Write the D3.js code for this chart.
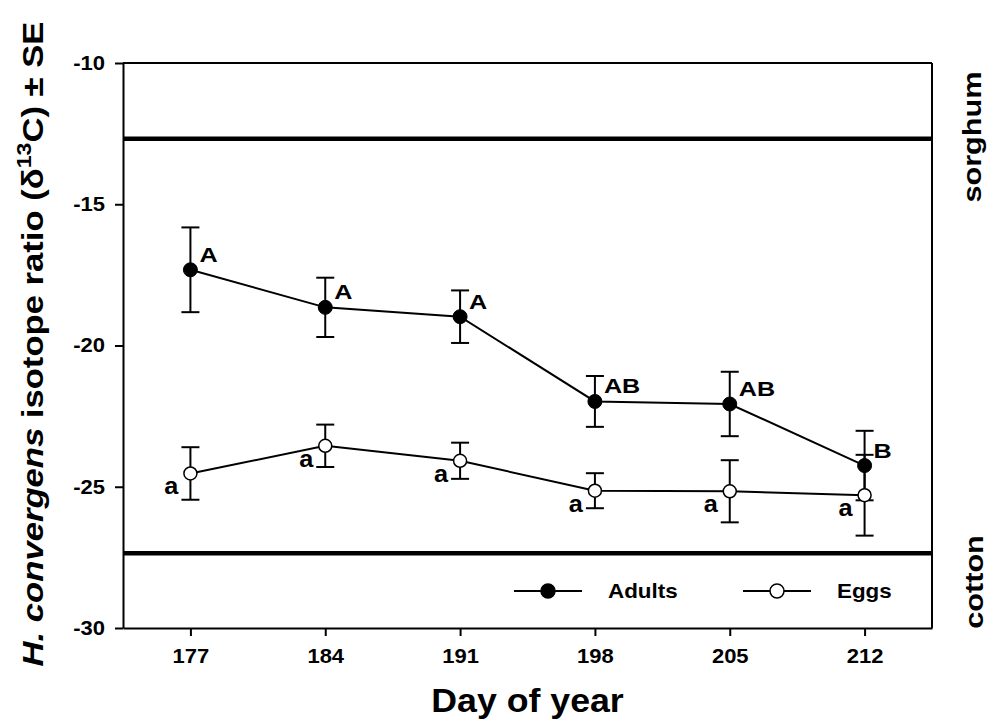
<!DOCTYPE html>
<html>
<head>
<meta charset="utf-8">
<script src="https://cdn.jsdelivr.net/npm/d3@7"></script>
<style>
  body { margin: 0; background: #fff; }
  svg text { font-family: Arial, "Liberation Sans", sans-serif; font-weight: bold; fill: #000; }
</style>
</head>
<body>
<div id="chart"></div>
<script>
// values (delta 13C, per mille)
const days = [177, 184, 191, 198, 205, 212];
const adultMean = [-17.32, -18.65, -18.98, -21.98, -22.07, -24.25];
const adultSE = [1.50, 1.05, 0.93, 0.90, 1.14, 1.23];
const adultLetters = ["A", "A", "A", "AB", "AB", "B"];
const eggMean = [-24.53, -23.55, -24.08, -25.14, -25.16, -25.30];
const eggSE = [0.93, 0.75, 0.64, 0.62, 1.10, 1.43];
const eggLetters = ["a", "a", "a", "a", "a", "a"];
const yTicks = [-10, -15, -20, -25, -30];
const sorghumRef = -12.68;
const cottonRef = -27.35;

const margin = {top: 63, right: 63, bottom: 95, left: 123},
    width = 995 - margin.left - margin.right,
    height = 723 - margin.top - margin.bottom;

const adults = days.map((d, i) => ({day: d, mean: adultMean[i], se: adultSE[i], letter: adultLetters[i]}));
const eggs = days.map((d, i) => ({day: d, mean: eggMean[i], se: eggSE[i], letter: eggLetters[i]}));

const svg = d3.select("#chart").append("svg")
    .attr("width", 995)
    .attr("height", 723);

const g = svg.append("g")
    .attr("transform", "translate(" + margin.left + "," + margin.top + ")");

const x = d3.scaleLinear()
    .domain([173.5, 215.5])
    .range([0, width]);

const y = d3.scaleLinear()
    .domain([-30, -10])
    .range([height, 0]);

// text in the figure runs a bit wider than Arial, so stretch along the baseline
function put(sel, px, py, size, anchor, k, rot) {
    return sel.attr("transform", "translate(" + px + "," + py + ")" + (rot ? " rotate(" + rot + ")" : "") + " scale(" + k + ",1)")
        .style("font-size", size + "px")
        .attr("text-anchor", anchor);
}

// axes
const yAxis = g.append("g")
    .call(d3.axisLeft(y).tickValues(yTicks).tickSize(8).tickSizeOuter(0).tickPadding(10).tickFormat(d => d.toString()));
const xAxis = g.append("g")
    .attr("transform", "translate(0," + height + ")")
    .call(d3.axisBottom(x).tickValues(days).tickSize(8).tickSizeOuter(0).tickPadding(13).tickFormat(d => d.toString()));

[yAxis, xAxis].forEach(a => {
    a.select(".domain").attr("stroke-width", 2);
    a.selectAll(".tick line").attr("stroke-width", 2);
    a.selectAll(".tick text").style("font-size", "20px").attr("font-family", null);
});
yAxis.selectAll(".tick text").each(function () {
    const t = d3.select(this);
    t.attr("transform", "translate(" + (+t.attr("x")) + ",0) scale(1.1,1)").attr("x", 0);
});
xAxis.selectAll(".tick text").attr("transform", "scale(1.1,1)");

// frame top and right
g.append("line").attr("x1", 0).attr("x2", width).attr("y1", 0).attr("y2", 0)
    .attr("stroke", "#000").attr("stroke-width", 2);
g.append("line").attr("x1", width).attr("x2", width).attr("y1", 0).attr("y2", height)
    .attr("stroke", "#000").attr("stroke-width", 2);

// source reference lines
[sorghumRef, cottonRef].forEach(v => {
    g.append("line")
        .attr("x1", 0).attr("x2", width)
        .attr("y1", y(v)).attr("y2", y(v))
        .attr("stroke", "#000").attr("stroke-width", 4.5);
});

const line = d3.line()
    .x(d => x(d.day))
    .y(d => y(d.mean));

[adults, eggs].forEach(series => {
    g.append("path")
        .datum(series)
        .attr("d", line)
        .attr("fill", "none")
        .attr("stroke", "#000")
        .attr("stroke-width", 2);
});

// error bars
const cap = 9;
[adults, eggs].forEach(series => {
    const eb = g.append("g").selectAll("g")
        .data(series)
        .enter()
        .append("g")
        .attr("stroke", "#000")
        .attr("stroke-width", 2);
    eb.append("line")
        .attr("x1", d => x(d.day)).attr("x2", d => x(d.day))
        .attr("y1", d => y(d.mean + d.se)).attr("y2", d => y(d.mean - d.se));
    eb.append("line")
        .attr("x1", d => x(d.day) - cap).attr("x2", d => x(d.day) + cap)
        .attr("y1", d => y(d.mean + d.se)).attr("y2", d => y(d.mean + d.se));
    eb.append("line")
        .attr("x1", d => x(d.day) - cap).attr("x2", d => x(d.day) + cap)
        .attr("y1", d => y(d.mean - d.se)).attr("y2", d => y(d.mean - d.se));
});

// markers
g.append("g").selectAll("circle")
    .data(eggs)
    .enter()
    .append("circle")
    .attr("cx", d => x(d.day))
    .attr("cy", d => y(d.mean))
    .attr("r", 6.5)
    .attr("fill", "#fff")
    .attr("stroke", "#000")
    .attr("stroke-width", 1.5);
g.append("g").selectAll("circle")
    .data(adults)
    .enter()
    .append("circle")
    .attr("cx", d => x(d.day))
    .attr("cy", d => y(d.mean))
    .attr("r", 7)
    .attr("fill", "#000")
    .attr("stroke", "#000")
    .attr("stroke-width", 1);

// significance letters
adults.forEach(d => {
    put(g.append("text").text(d.letter), x(d.day) + 9, y(d.mean) - 8, 21, "start", 1.2);
});
eggs.forEach(d => {
    put(g.append("text").text(d.letter), x(d.day) - 12, y(d.mean) + 21, 23, "end", 1.1);
});

// legend
const legendItems = [
    {label: "Adults", fill: "#000", x0: 391, tx: 485},
    {label: "Eggs", fill: "#fff", x0: 620, tx: 714}
];
legendItems.forEach(item => {
    const ly = 528;
    g.append("line")
        .attr("x1", item.x0).attr("x2", item.x0 + 68)
        .attr("y1", ly).attr("y2", ly)
        .attr("stroke", "#000").attr("stroke-width", 2);
    g.append("circle")
        .attr("cx", item.x0 + 34).attr("cy", ly)
        .attr("r", 7)
        .attr("fill", item.fill)
        .attr("stroke", "#000").attr("stroke-width", 1.5);
    put(g.append("text").text(item.label), item.tx, ly + 6.5, 20, "start", 1.12);
});

// axis titles
put(svg.append("text").text("Day of year"), margin.left + width / 2, 712, 34, "middle", 1.05);

const yTitle = svg.append("text");
yTitle.append("tspan").style("font-style", "italic").text("H. convergens");
yTitle.append("tspan").text(" isotope ratio (\u03B4");
yTitle.append("tspan").attr("dy", -12).style("font-size", "20px").text("13");
yTitle.append("tspan").attr("dy", 12).text("C) \u00B1 SE");
put(yTitle, 43, 344, 30, "middle", 1, -90);
const yLen = yTitle.node().getComputedTextLength();
put(yTitle, 43, 344, 30, "middle", 645 / yLen, -90);

put(svg.append("text").text("sorghum"), 981, 137, 26, "middle", 1.18, -90);
put(svg.append("text").text("cotton"), 983, 582, 26, "middle", 1.18, -90);
</script>
</body>
</html>
